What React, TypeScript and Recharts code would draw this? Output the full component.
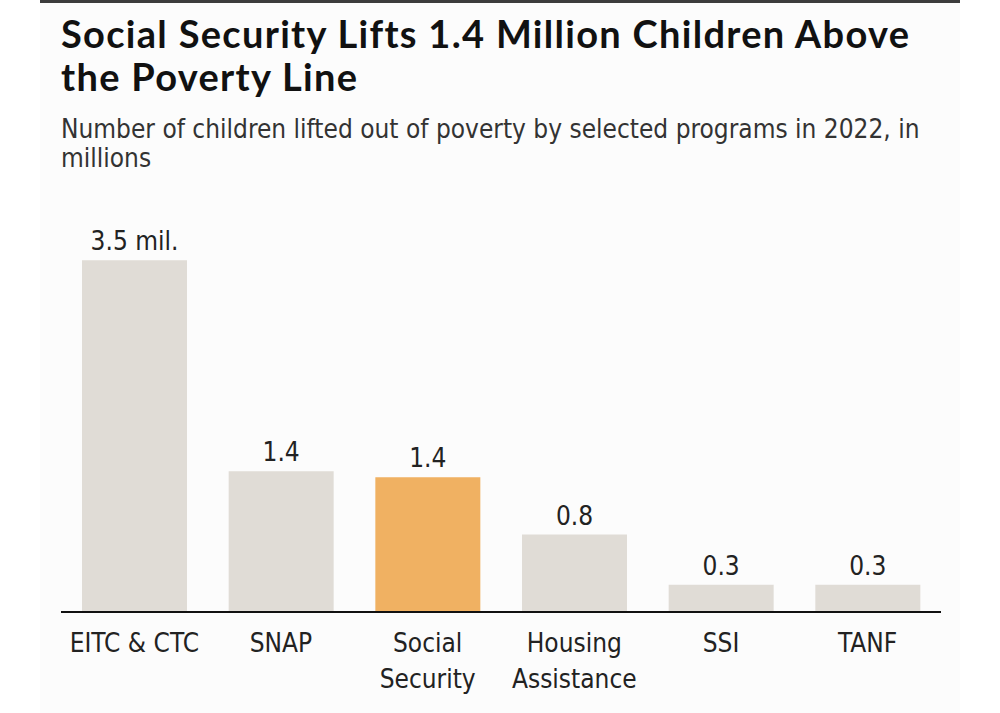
import { BarChart, Bar, XAxis, YAxis, Cell, LabelList } from 'recharts'

const programs = ['EITC & CTC', 'SNAP', 'Social Security', 'Housing Assistance', 'SSI', 'TANF']
const tickLines = [['EITC & CTC'], ['SNAP'], ['Social', 'Security'], ['Housing', 'Assistance'], ['SSI'], ['TANF']]
const children = [3.5, 1.4, 1.34, 0.77, 0.27, 0.27]
const valueLabels = ['3.5 mil.', '1.4', '1.4', '0.8', '0.3', '0.3']
const highlight = 'Social Security'

const data = programs.map((name, i) => ({ name, value: children[i], label: valueLabels[i] }))

const narrow = "'Liberation Sans Narrow', 'DejaVu Sans Condensed', 'Roboto', sans-serif"

const ProgramTick = (props: any) => {
    const { x, index } = props
    const lines = tickLines[index] || []
    // baseline of first line sits ~39px under the axis line
    return (
        <text x={x} y={613} textAnchor="middle" fill="#222" fontSize={26} fontFamily={narrow}>
            {lines.map((l, i) => (
                <tspan key={i} x={x} dy={i === 0 ? 39 : 36}>{l}</tspan>
            ))}
        </text>
    )
}

export default function App() {
    return (
        <div style={{ position: 'absolute', left: 0, top: 0, width: 1000, height: 713, background: '#fff', overflow: 'hidden' }}>
            <div style={{ position: 'absolute', left: 40, top: 0, width: 920, height: 713, background: '#fcfcfc', borderTop: '3px solid #3c3c3c', boxSizing: 'border-box' }} />
            <div style={{ position: 'absolute', left: 61, top: 12, fontFamily: "'Lato', sans-serif", fontWeight: 700, fontSize: 38, lineHeight: '43px', letterSpacing: 1.3, color: '#111' }}>
                <div>Social Security Lifts 1.4 Million Children Above</div>
                <div>the Poverty Line</div>
            </div>
            <div style={{ position: 'absolute', left: 61, top: 115, fontFamily: narrow, fontSize: 26, lineHeight: '29px', color: '#333' }}>
                <div>Number of children lifted out of poverty by selected programs in 2022, in</div>
                <div>millions</div>
            </div>
            <div style={{ position: 'absolute', left: 0, top: 0 }}>
                <BarChart width={1000} height={713} data={data} margin={{ top: 210, right: 59, bottom: 71, left: 61 }}>
                    <YAxis hide domain={[0, 4]} />
                    <XAxis
                        dataKey="name"
                        axisLine={{ stroke: '#111', strokeWidth: 2 }}
                        tickLine={false}
                        interval={0}
                        tick={<ProgramTick />}
                    />
                    <Bar dataKey="value" barSize={105} isAnimationActive={false}>
                        {data.map((d) => (
                            <Cell key={d.name} fill={d.name === highlight ? '#f0b162' : '#e0dcd6'} />
                        ))}
                        <LabelList dataKey="label" position="top" offset={10} fill="#222" fontSize={26} fontFamily={narrow} />
                    </Bar>
                </BarChart>
            </div>
        </div>
    )
}
